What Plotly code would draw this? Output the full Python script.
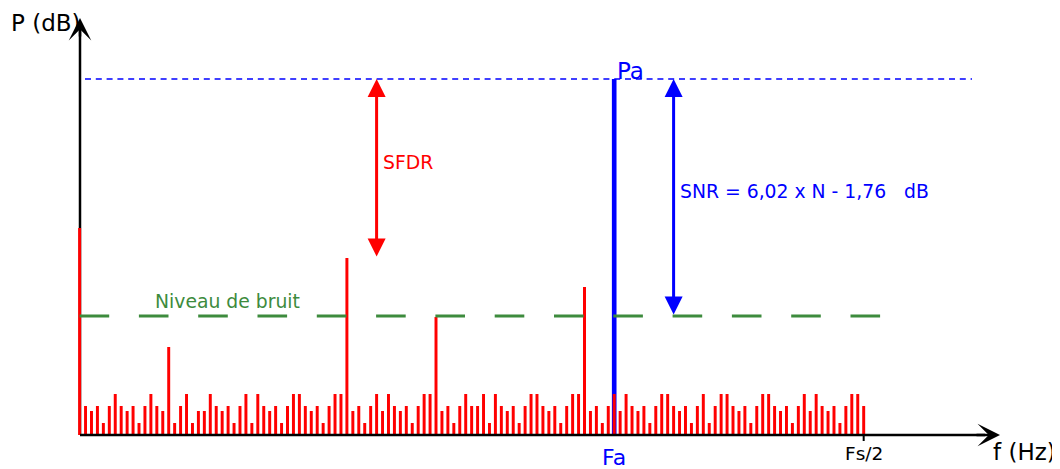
import plotly.graph_objects as go

# ---------------- data ----------------
# frequency bins from DC (0) to Fs/2 (132)
freq_bins = list(range(133))
# spectrum levels (height above the floor, arbitrary dB scale)
spur_levels = [
    207,
    29, 24, 29, 12, 29, 41, 29, 24, 29, 12, 29, 41, 29, 24,
    88,
    12, 29, 41, 12, 24, 24, 41, 29, 24, 29, 12, 29, 41, 12, 41, 29, 24, 29, 12, 29,
    41, 41, 29, 24, 29, 12, 29, 41, 41,
    177,
    24, 29, 12, 29, 41, 24, 41, 29, 24, 29, 12, 29, 41, 41,
    118,
    24, 29, 12, 29, 41, 29, 29, 41, 12, 41, 29, 24, 29, 12, 29, 41, 41, 29, 24, 29,
    12, 29, 41, 41,
    148,
    24, 29, 12, 29,
    41,
    24, 41, 29, 24, 29, 12, 29, 41, 41, 29, 24, 29, 12, 29, 41, 12, 29, 41, 41, 29,
    24, 29, 12, 29, 41, 41, 29, 24, 29, 12, 29, 41, 24, 41, 29, 24, 29, 12, 29, 41,
    41, 29,
]
signal_bin = 90          # Fa
signal_level = 356       # Pa
noise_level = 119        # Niveau de bruit
sfdr_bin = 50
sfdr_spur_level = 177    # largest spur
snr_bin = 100
fs2_bin = 132

# ---------------- styling / geometry helpers ----------------
WIN_W, WIN_H = 1060, 469
PAGE_OFF = 8                    # default body margin of the html page
X0_PX, BIN_PX = 79.6, 5.94      # window pixel of bin 0 and pixels per bin
BASE_PX = 435                   # window pixel row of the level 0


def bx(px):
    return (px - X0_PX) / BIN_PX


def ly(py):
    return BASE_PX - py


RED = "#ff0000"
BLUE = "#0000ff"
GREEN = "#3d8b3d"
FONT = "DejaVu Sans"

fig = go.Figure()

fig.add_trace(go.Bar(x=[signal_bin], y=[signal_level], width=0.78,
                     marker=dict(color=BLUE, line=dict(width=0))))
fig.add_trace(go.Bar(x=freq_bins, y=spur_levels, width=0.5,
                     marker=dict(color=RED, line=dict(width=0))))

# Pa reference line (dotted blue)
fig.add_trace(go.Scatter(x=[bx(85), bx(972)], y=[signal_level, signal_level],
                         mode="lines",
                         line=dict(color=BLUE, width=1.5, dash="6px,4.8px")))
# noise level (dashed green)
fig.add_trace(go.Scatter(x=[0, bx(881)], y=[noise_level, noise_level],
                         mode="lines",
                         line=dict(color=GREEN, width=3, dash="29.6px,29.7px")))

shapes = [
    # y axis line (below bars)
    dict(type="line", xref="x", yref="y", x0=bx(80), x1=bx(80), y0=0, y1=ly(30),
         line=dict(color="black", width=2.5), layer="below"),
    # x axis line (above bars)
    dict(type="line", xref="x", yref="y", x0=bx(80), x1=bx(985), y0=0, y1=0,
         line=dict(color="black", width=2.5), layer="above"),
    # Fs/2 tick
    dict(type="line", xref="x", yref="y", x0=fs2_bin, x1=fs2_bin, y0=0, y1=ly(441),
         line=dict(color="black", width=2), layer="above"),
]

annotations = []
# axis arrow heads
annotations.append(dict(x=bx(80), y=ly(18), xref="x", yref="y", ax=0, ay=20,
                        text="", showarrow=True, arrowhead=3, arrowsize=1.5,
                        arrowwidth=2.5, arrowcolor="black"))
annotations.append(dict(x=bx(1000), y=0, xref="x", yref="y", ax=-25, ay=0,
                        text="", showarrow=True, arrowhead=3, arrowsize=1.5,
                        arrowwidth=2.5, arrowcolor="black"))
# SFDR double arrow
annotations.append(dict(x=sfdr_bin, y=signal_level, ax=sfdr_bin, ay=sfdr_spur_level,
                        xref="x", yref="y", axref="x", ayref="y", text="",
                        showarrow=True, arrowside="end+start",
                        arrowhead=2, startarrowhead=2, arrowsize=1.2,
                        startarrowsize=1.2, arrowwidth=3, arrowcolor=RED))
# SNR double arrow
annotations.append(dict(x=snr_bin, y=signal_level, ax=snr_bin, ay=noise_level,
                        xref="x", yref="y", axref="x", ayref="y", text="",
                        showarrow=True, arrowside="end+start",
                        arrowhead=2, startarrowhead=2, arrowsize=1.2,
                        startarrowsize=1.2, arrowwidth=3, arrowcolor=BLUE))


def label(text, px, py, size, color, xanchor="left"):
    annotations.append(dict(x=bx(px), y=ly(py), xref="x", yref="y", text=text,
                            showarrow=False, xanchor=xanchor, yanchor="middle",
                            font=dict(family=FONT, size=size, color=color)))


label("P (dB)", 8.5, 23, 23, "black")
label("f (Hz)", 991, 452, 23, "black")
label("Pa", 615, 71, 23, BLUE)
label("Fa", X0_PX + BIN_PX * signal_bin, 457, 22, BLUE, xanchor="center")
label("Fs/2", X0_PX + BIN_PX * fs2_bin, 453, 18.5, "black", xanchor="center")
label("SFDR", 381, 162, 18.8, RED)
label("SNR = 6,02 x N - 1,76\u00a0\u00a0\u00a0dB", 678, 191, 18.8, BLUE)
label("Niveau de bruit", 153, 301, 18.8, GREEN)

fig.update_layout(
    width=WIN_W - PAGE_OFF, height=WIN_H - PAGE_OFF,
    margin=dict(l=0, r=0, t=0, b=0),
    paper_bgcolor="white", plot_bgcolor="white",
    showlegend=False, barmode="overlay",
    xaxis=dict(visible=False, range=[bx(PAGE_OFF), bx(WIN_W)]),
    yaxis=dict(visible=False, range=[ly(WIN_H), ly(PAGE_OFF)]),
    shapes=shapes, annotations=annotations,
)

fig.write_html("out.html")
